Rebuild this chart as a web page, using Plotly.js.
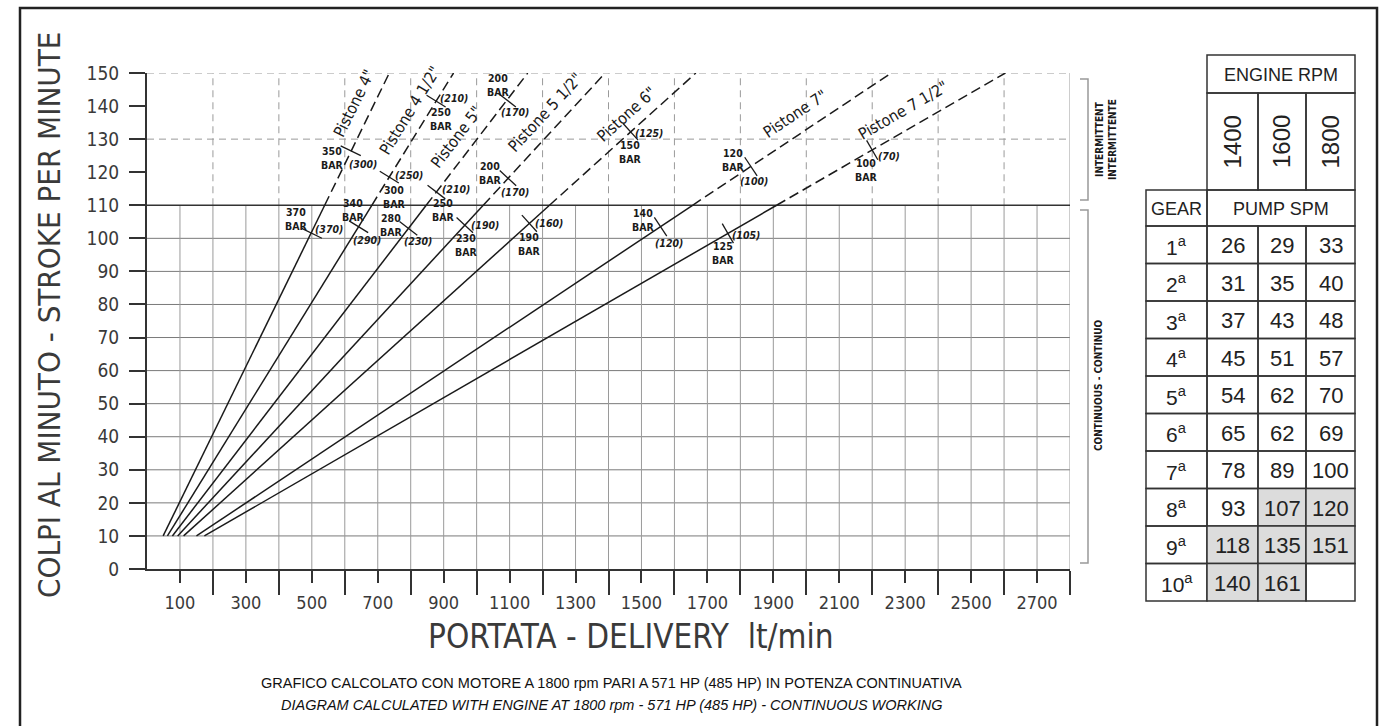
<!DOCTYPE html>
<html>
<head>
<meta charset="utf-8">
<script src="https://cdn.plot.ly/plotly-3.0.1.min.js"></script>
<style>
html,body{margin:0;padding:0;background:#fff;}
#chart{width:1393px;height:726px;}
</style>
</head>
<body>
<div id="chart"></div>
<script>
// ---------------- DATA ----------------
const pistonNames = ['Pistone 4"', 'Pistone 4 1/2"', 'Pistone 5"', 'Pistone 5 1/2"', 'Pistone 6"', 'Pistone 7"', 'Pistone 7 1/2"'];
// delivery (lt/min) read at 10, 110 and 150 strokes/min
const flowAt10  = [49, 62, 77, 93, 111, 150, 174];
const flowAt110 = [539, 682, 847, 1020, 1221, 1655, 1910];
const flowAt150 = [735, 930, 1155, 1390, 1665, 2258, 2604];
const spmLow = 10, spmCont = 110, spmTop = 150;

// pressure marks: piston index, delivery, spm, label "BAR", label "( )"
const markPiston = [0, 0, 1, 1, 1, 2, 2, 2, 3, 3, 4, 4, 5, 5, 6, 6];
const markFlow   = [500, 618, 642, 735, 877, 793, 878, 1092, 964, 1095, 1160, 1467, 1558, 1832, 1762, 2200];
const markSpm    = [101.5, 126.5, 103.5, 118.5, 141.5, 103, 114, 141.8, 104, 118.2, 104.5, 132.2, 103.5, 121.7, 101.5, 126.7];
const markBar    = [370, 350, 340, 300, 250, 280, 250, 200, 230, 200, 190, 150, 140, 120, 125, 100];
const markPar    = [370, 300, 290, 250, 210, 230, 210, 170, 190, 170, 160, 125, 120, 100, 105, 70];
// label offsets in pixels (dx right, dy down) for the BAR label and the (..) label
const barDx = [-15, -18, -5, 5, 5, -17, 7, -8, 2, -17, 0, 0, -17, -17, -4, -6];
const barDy = [-14, 7, -17, 20, 18, -3, 18, -15, 20, -5, 21, 20, -7, -7, 20, 20];
const parDx = [17, 12, 8, 20, 18, 10, 20, 8, 20, 7, 20, 18, 8, 3, 18, 17];
const parDy = [-4, 13, 13, -2, -3, 13, -3, 12, 0, 14, 0, 1, 16, 14, 2, 6];

// piston label centre positions (delivery, spm)
const labelFlow = [637, 804, 946, 1213, 1459, 1972, 2297];
const labelSpm  = [140.6, 138.2, 130.3, 137.6, 137, 137, 138];

// axes
const xTickVals = [100, 300, 500, 700, 900, 1100, 1300, 1500, 1700, 1900, 2100, 2300, 2500, 2700];
const xMinorVals = [200, 400, 600, 800, 1000, 1200, 1400, 1600, 1800, 2000, 2200, 2400, 2600, 2800];
const yTickVals = [0, 10, 20, 30, 40, 50, 60, 70, 80, 90, 100, 110, 120, 130, 140, 150];

// table
const engineRpm = ['1400', '1600', '1800'];
const gears = ['1', '2', '3', '4', '5', '6', '7', '8', '9', '10'];
const spm1400 = [26, 31, 37, 45, 54, 65, 78, 93, 118, 140];
const spm1600 = [29, 35, 43, 51, 62, 62, 89, 107, 135, 161];
const spm1800 = [33, 40, 48, 57, 70, 69, 100, 120, 151, null];
const shade1400 = [0, 0, 0, 0, 0, 0, 0, 0, 1, 1];
const shade1600 = [0, 0, 0, 0, 0, 0, 0, 1, 1, 1];
const shade1800 = [0, 0, 0, 0, 0, 0, 0, 1, 1, 0];

// ---------------- LAYOUT GEOMETRY ----------------
const W = 1393, H = 726;
const X0 = 147, X1 = 1070, YT = 73, YB = 569;
const XMAX = 2800, YMAX = 150;
const pxX = (X1 - X0) / XMAX, pxY = (YB - YT) / YMAX;
const P = px => px / W;
const Q = py => 1 - py / H;

const ISO = "'DejaVu Sans Condensed', 'Liberation Sans Narrow', sans-serif";
const ARIAL = "'Liberation Sans', Arial, sans-serif";
const INK = '#1a1a1a';

const traces = [];
const annotations = [];
const shapes = [];
function note(o) { annotations.push(Object.assign({showarrow: false, xanchor: 'center', yanchor: 'middle'}, o)); }

// piston angles (screen)
const angles = flowAt10.map((f, i) =>
  Math.atan2((spmCont - spmLow) * pxY, (flowAt110[i] - f) * pxX) * 180 / Math.PI);

// piston lines
pistonNames.forEach((name, i) => {
  traces.push({
    x: [flowAt10[i], flowAt110[i]], y: [spmLow, spmCont],
    mode: 'lines', line: {color: INK, width: 1.5}, hoverinfo: 'skip', showlegend: false
  });
  traces.push({
    x: [flowAt110[i], flowAt150[i]], y: [spmCont, spmTop],
    mode: 'lines', line: {color: INK, width: 1.5, dash: '10px,5px'}, hoverinfo: 'skip', showlegend: false
  });
  const th = angles[i] * Math.PI / 180;
  note({
    x: labelFlow[i], y: labelSpm[i], xref: 'x', yref: 'y',
    xshift: -2.5 * Math.sin(th), yshift: 2.5 * Math.cos(th),
    text: name, textangle: -angles[i],
    font: {family: ISO, size: 16, color: INK}
  });
});

// pressure marks
traces.push({
  x: markFlow, y: markSpm, mode: 'markers', hoverinfo: 'skip', showlegend: false,
  marker: {
    symbol: 'line-ns', size: 16,
    angle: markPiston.map(p => -angles[p]),
    line: {color: INK, width: 1.3}, color: INK
  }
});
markFlow.forEach((f, i) => {
  note({
    x: f, y: markSpm[i], xref: 'x', yref: 'y',
    xshift: barDx[i], yshift: -barDy[i],
    text: markBar[i] + '<br>BAR',
    font: {family: ISO, size: 10.5, color: INK, weight: 'bold'}
  });
  note({
    x: f, y: markSpm[i], xref: 'x', yref: 'y',
    xshift: parDx[i], yshift: -parDy[i],
    text: '<i>(' + markPar[i] + ')</i>',
    font: {family: ISO, size: 10.5, color: INK, weight: 'bold'}
  });
});

// grid (continuous zone: solid, intermittent zone: dashed)
for (let y = 10; y <= 100; y += 10) {
  shapes.push({type: 'line', xref: 'x', yref: 'y', x0: 0, x1: XMAX, y0: y, y1: y,
    line: {color: '#7a7a7a', width: 1}, layer: 'below'});
}
for (let x = 100; x < XMAX; x += 100) {
  shapes.push({type: 'line', xref: 'x', yref: 'y', x0: x, x1: x, y0: 0, y1: 110,
    line: {color: '#9a9a9a', width: 1}, layer: 'below'});
}
for (let x = 200; x < XMAX; x += 200) {
  shapes.push({type: 'line', xref: 'x', yref: 'y', x0: x, x1: x, y0: 110, y1: 150,
    line: {color: '#9a9a9a', width: 1, dash: '7px,5px'}, layer: 'below'});
}
[130, 150].forEach(y => shapes.push({type: 'line', xref: 'x', yref: 'y', x0: 0, x1: XMAX, y0: y, y1: y,
  line: {color: '#9a9a9a', width: 1, dash: '7px,5px'}, layer: 'below'}));
shapes.push({type: 'line', xref: 'x', yref: 'y', x0: XMAX, x1: XMAX, y0: 0, y1: 150,
  line: {color: '#9a9a9a', width: 1}, layer: 'below'});
shapes.push({type: 'line', xref: 'x', yref: 'y', x0: 0, x1: XMAX, y0: 110, y1: 110,
  line: {color: '#333', width: 1.5}, layer: 'below'});

// right brackets
shapes.push({type: 'path', xref: 'paper', yref: 'paper',
  path: `M${P(1080)},${Q(79)} L${P(1088)},${Q(79)} L${P(1088)},${Q(200)} L${P(1080)},${Q(200)}`,
  line: {color: '#999', width: 1.5}});
shapes.push({type: 'path', xref: 'paper', yref: 'paper',
  path: `M${P(1080)},${Q(210)} L${P(1088)},${Q(210)} L${P(1088)},${Q(563)} L${P(1080)},${Q(563)}`,
  line: {color: '#999', width: 1.5}});
note({xref: 'paper', yref: 'paper', x: P(1106), y: Q(140),
  text: 'INTERMITTENT<br>INTERMITTENTE', textangle: -90,
  font: {family: ISO, size: 10, color: INK, weight: 'bold'}});
note({xref: 'paper', yref: 'paper', x: P(1098), y: Q(385),
  text: 'CONTINUOUS - CONTINUO', textangle: -90,
  font: {family: ISO, size: 10, color: INK, weight: 'bold'}});

// titles
note({xref: 'paper', yref: 'paper', x: P(49), y: Q(315),
  text: 'COLPI AL MINUTO - STROKE PER MINUTE', textangle: -90,
  font: {family: ISO, size: 31, color: '#3a3a3a', weight: 300}});
note({xref: 'paper', yref: 'paper', x: P(631), y: Q(636),
  text: 'PORTATA - DELIVERY  lt/min',
  font: {family: ISO, size: 33, color: '#3a3a3a', weight: 300}});
note({xref: 'paper', yref: 'paper', x: P(611), y: Q(683),
  text: 'GRAFICO CALCOLATO CON MOTORE A 1800 rpm PARI A 571 HP (485 HP) IN POTENZA CONTINUATIVA',
  font: {family: ARIAL, size: 14.5, color: '#111'}});
note({xref: 'paper', yref: 'paper', x: P(611), y: Q(705),
  text: '<i>DIAGRAM CALCULATED WITH ENGINE AT 1800 rpm - 571 HP (485 HP) - CONTINUOUS WORKING</i>',
  font: {family: ARIAL, size: 14.5, color: '#111'}});

// frame
shapes.push({type: 'path', xref: 'paper', yref: 'paper',
  path: `M${P(20)},${Q(730)} L${P(20)},${Q(8)} L${P(1377)},${Q(8)} L${P(1377)},${Q(730)}`,
  line: {color: '#222', width: 2.5}});

// ---------------- TABLE ----------------
const TC = '#333';
function cell(x0, y0, x1, y1, fill) {
  shapes.push({type: 'rect', xref: 'paper', yref: 'paper',
    x0: P(x0), x1: P(x1), y0: Q(y1), y1: Q(y0),
    fillcolor: fill || 'rgba(0,0,0,0)', line: {color: TC, width: 1.5}, layer: 'below'});
}
function ctext(x, y, t, size, angle) {
  note({xref: 'paper', yref: 'paper', x: P(x), y: Q(y),
    text: t, textangle: angle || 0, font: {family: ARIAL, size: size, color: '#222'}});
}
const cols = [1207, 1258, 1306, 1355];
const gearX0 = 1146;
cell(cols[0], 55, cols[3], 93);
ctext((cols[0] + cols[3]) / 2, 75, 'ENGINE RPM', 18);
engineRpm.forEach((r, j) => {
  cell(cols[j], 93, cols[j + 1], 190);
  ctext((cols[j] + cols[j + 1]) / 2, 142, r, 24, -90);
});
cell(gearX0, 190, cols[0], 226);
ctext((gearX0 + cols[0]) / 2, 209, 'GEAR', 18);
cell(cols[0], 190, cols[3], 226);
ctext((cols[0] + cols[3]) / 2, 209, 'PUMP SPM', 18);
const rowH = 37.5;
const colVals = [spm1400, spm1600, spm1800];
const colShade = [shade1400, shade1600, shade1800];
gears.forEach((g, i) => {
  const y0 = 226 + i * rowH, y1 = y0 + rowH;
  cell(gearX0, y0, cols[0], y1);
  ctext((gearX0 + cols[0]) / 2, (y0 + y1) / 2 + 1, g + '<sup>a</sup>', 21);
  colVals.forEach((vals, j) => {
    cell(cols[j], y0, cols[j + 1], y1, colShade[j][i] ? '#dcdcdc' : null);
    if (vals[i] !== null) ctext((cols[j] + cols[j + 1]) / 2, (y0 + y1) / 2 + 1, String(vals[i]), 22);
  });
});

// ---------------- LAYOUT ----------------
const layout = {
  width: W, height: H,
  margin: {l: 0, r: 0, t: 0, b: 0},
  paper_bgcolor: '#fff', plot_bgcolor: '#fff',
  showlegend: false,
  xaxis: {
    domain: [P(X0), P(X1)], range: [0, XMAX], showgrid: false, zeroline: false,
    showline: true, linecolor: '#333', linewidth: 2,
    tickmode: 'array', tickvals: xTickVals, ticktext: xTickVals.map(String),
    ticks: 'outside', ticklen: 12, tickwidth: 2, tickcolor: '#333',
    ticklabelstandoff: 4,
    minor: {tickmode: 'array', tickvals: xMinorVals, ticks: 'outside', ticklen: 24, tickwidth: 2, tickcolor: '#333', showgrid: false},
    tickfont: {family: ISO, size: 18, color: '#3a3a3a'}, fixedrange: true
  },
  yaxis: {
    domain: [Q(YB), Q(YT)], range: [0, YMAX], showgrid: false, zeroline: false,
    showline: true, linecolor: '#333', linewidth: 2,
    tickmode: 'array', tickvals: yTickVals, ticktext: yTickVals.map(String),
    ticks: 'outside', ticklen: 16, tickwidth: 2, tickcolor: '#333',
    ticklabelstandoff: 6,
    tickfont: {family: ISO, size: 19, color: '#3a3a3a'}, fixedrange: true
  },
  shapes: shapes,
  annotations: annotations
};

Plotly.newPlot('chart', traces, layout, {displayModeBar: false, staticPlot: true});
</script>
</body>
</html>
